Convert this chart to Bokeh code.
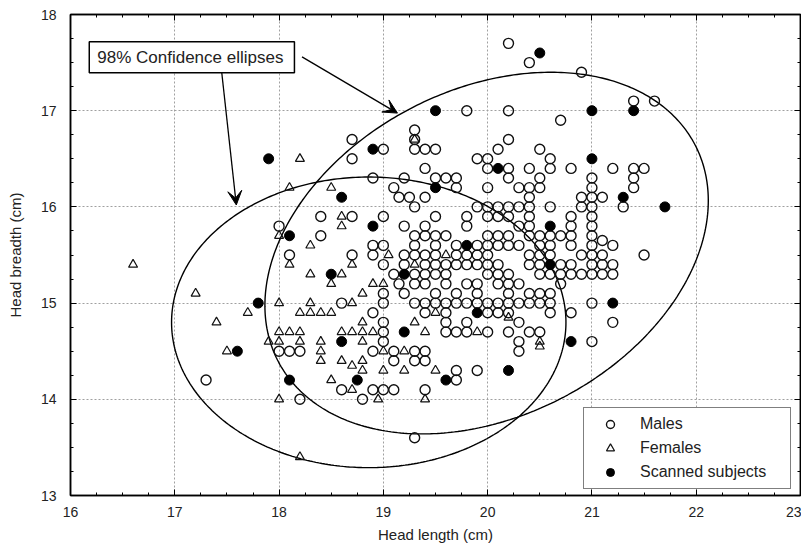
import numpy as np
from bokeh.plotting import figure
from bokeh.models import (FixedTicker, LinearAxis, Range1d, Label, Arrow, VeeHead,
                          Legend, LegendItem, CustomLabelingPolicy)
from bokeh.embed import file_html
from bokeh.resources import INLINE

# ---------------- data ----------------
males_x = [
    20.2,
    20.4,
    20.9,
    21.4, 21.6,
    19.8, 20.2,
    20.7,
    19.3,
    18.7, 19.3, 20.2,
    19.0, 19.3, 19.4, 19.5, 20.1, 20.5,
    18.7, 19.9, 20.0, 20.6,
    19.4, 20.0, 20.2, 20.4, 20.6, 20.8, 21.2, 21.4, 21.5,
    18.9, 19.2, 19.5, 19.6, 19.7, 20.2, 20.5, 21.0, 21.4,
    19.1, 19.7, 20.0, 20.3, 20.4, 20.5, 21.0, 21.4,
    19.15, 19.25, 19.4, 20.4, 20.9, 21.0, 21.1,
    19.3, 19.9, 20.0, 20.1, 20.2, 20.3, 20.4, 20.6, 20.9, 21.0, 21.3,
    18.4, 18.7, 19.0, 19.5, 19.8, 20.0, 20.1, 20.2, 20.4, 20.8, 21.0,
    18.0, 19.2, 19.4, 19.8, 20.3, 20.4, 20.8, 21.0,
    18.4, 19.3, 19.4, 19.5, 19.6, 20.0, 20.1, 20.2, 20.4, 20.5, 20.6, 20.7, 20.8, 21.0,
    21.1,
    18.9, 19.0, 19.3, 19.5, 19.7, 19.9, 20.0, 20.1, 20.2, 20.3, 20.5, 20.6, 20.8, 21.0, 21.2,
    18.1, 18.7, 18.9, 19.2, 19.3, 19.4, 19.5, 19.7, 19.8, 19.9, 20.0, 20.4, 20.5, 20.6, 20.9, 21.0, 21.1, 21.5,
    19.0, 19.2, 19.4, 19.5, 19.6, 19.7, 19.8, 19.9, 20.0, 20.1, 20.4, 20.5, 20.7, 20.8, 21.0, 21.1, 21.2,
    19.1, 19.3, 19.4, 19.5, 19.6, 20.0, 20.1, 20.2, 20.5, 20.6, 20.7, 20.8, 20.9, 21.0, 21.1, 21.2,
    19.15, 19.3, 19.4, 19.6, 19.8, 19.9, 20.1, 20.2, 20.3, 20.7,
    19.0, 19.2, 19.5, 19.7, 19.9, 20.2, 20.4, 20.5, 20.6,
    18.6, 19.0, 19.3, 19.4, 19.5, 19.6, 19.7, 19.8, 19.9, 20.0, 20.1, 20.2, 20.3, 20.4, 20.5, 20.6, 21.0,
    18.9, 19.4, 19.6, 20.0, 20.1, 20.2, 20.6, 20.8,
    19.0, 19.6, 19.8, 20.3, 21.2,
    19.0, 19.6, 19.7, 19.8, 20.0, 20.2, 20.4, 20.5,
    19.0, 20.3, 21.0,
    18.0, 18.1, 18.2, 18.9, 19.1, 19.3, 19.4, 20.3,
    19.1, 19.3, 19.4,
    19.7, 19.9,
    17.3, 19.7,
    18.6, 18.9, 19.0, 19.1, 19.4,
    18.2, 18.8,
    19.3,
]
males_y = [
    17.7,
    17.5,
    17.4,
    17.1, 17.1,
    17.0, 17.0,
    16.9,
    16.8,
    16.7, 16.7, 16.7,
    16.6, 16.6, 16.6, 16.6, 16.6, 16.6,
    16.5, 16.5, 16.5, 16.5,
    16.4, 16.4, 16.4, 16.4, 16.4, 16.4, 16.4, 16.4, 16.4,
    16.3, 16.3, 16.3, 16.3, 16.3, 16.3, 16.3, 16.3, 16.3,
    16.2, 16.2, 16.2, 16.2, 16.2, 16.2, 16.2, 16.2,
    16.1, 16.1, 16.1, 16.1, 16.1, 16.1, 16.1,
    16.0, 16.0, 16.0, 16.0, 16.0, 16.0, 16.0, 16.0, 16.0, 16.0, 16.0,
    15.9, 15.9, 15.9, 15.9, 15.9, 15.9, 15.9, 15.9, 15.9, 15.9, 15.9,
    15.8, 15.8, 15.8, 15.8, 15.8, 15.8, 15.8, 15.8,
    15.7, 15.7, 15.7, 15.7, 15.7, 15.7, 15.7, 15.7, 15.7, 15.7, 15.7, 15.7, 15.7, 15.7,
    15.65,
    15.6, 15.6, 15.6, 15.6, 15.6, 15.6, 15.6, 15.6, 15.6, 15.6, 15.6, 15.6, 15.6, 15.6, 15.6,
    15.5, 15.5, 15.5, 15.5, 15.5, 15.5, 15.5, 15.5, 15.5, 15.5, 15.5, 15.5, 15.5, 15.5, 15.5, 15.5, 15.5, 15.5,
    15.4, 15.4, 15.4, 15.4, 15.4, 15.4, 15.4, 15.4, 15.4, 15.4, 15.4, 15.4, 15.4, 15.4, 15.4, 15.4, 15.4,
    15.3, 15.3, 15.3, 15.3, 15.3, 15.3, 15.3, 15.3, 15.3, 15.3, 15.3, 15.3, 15.3, 15.3, 15.3, 15.3,
    15.2, 15.2, 15.2, 15.2, 15.2, 15.2, 15.2, 15.2, 15.2, 15.2,
    15.1, 15.1, 15.1, 15.1, 15.1, 15.1, 15.1, 15.1, 15.1,
    15.0, 15.0, 15.0, 15.0, 15.0, 15.0, 15.0, 15.0, 15.0, 15.0, 15.0, 15.0, 15.0, 15.0, 15.0, 15.0, 15.0,
    14.9, 14.9, 14.9, 14.9, 14.9, 14.9, 14.9, 14.9,
    14.8, 14.8, 14.8, 14.8, 14.8,
    14.7, 14.7, 14.7, 14.7, 14.7, 14.7, 14.7, 14.7,
    14.6, 14.6, 14.6,
    14.5, 14.5, 14.5, 14.5, 14.5, 14.5, 14.5, 14.5,
    14.4, 14.4, 14.4,
    14.3, 14.3,
    14.2, 14.2,
    14.1, 14.1, 14.1, 14.1, 14.1,
    14.0, 14.0,
    13.6,
]

females_x = [19.3, 18.2, 18.1, 18.5, 18.6, 18.6, 18.0, 18.3, 19.05, 19.6,
             16.6, 18.1, 18.7, 19.3, 18.3, 18.6, 18.5, 18.9, 19.0, 17.2,
             18.8, 18.0, 18.3, 18.7, 17.7, 18.2, 18.3, 18.4, 18.5, 19.5,
             20.2, 17.4, 18.8, 19.3, 18.0, 18.1, 18.2, 18.6, 18.7, 18.8,
             18.9, 19.4, 19.9, 17.9, 18.0, 18.2, 18.4, 18.8, 20.5, 20.5,
             17.5, 18.4, 19.0, 19.2, 18.4, 18.6, 18.8, 18.7, 18.8, 19.0,
             19.2, 19.5, 18.5, 18.7, 18.0, 18.95, 19.4, 18.2]
females_y = [16.7, 16.5, 16.2, 16.2, 15.9, 15.8, 15.7, 15.6, 15.5, 15.5,
             15.4, 15.4, 15.4, 15.4, 15.3, 15.3, 15.2, 15.2, 15.2, 15.1,
             15.1, 15.0, 15.0, 15.0, 14.9, 14.9, 14.9, 14.9, 14.9, 14.9,
             14.85, 14.8, 14.8, 14.8, 14.7, 14.7, 14.7, 14.7, 14.7, 14.7,
             14.7, 14.7, 14.7, 14.6, 14.6, 14.6, 14.6, 14.6, 14.6, 14.55,
             14.5, 14.5, 14.5, 14.5, 14.4, 14.4, 14.4, 14.35, 14.3, 14.3,
             14.3, 14.3, 14.2, 14.1, 14.0, 14.0, 14.0, 13.4]

scanned_x = [20.5, 19.5, 21.0, 21.4, 18.9, 17.9, 21.0, 20.1, 19.5, 18.6,
             21.3, 21.7, 18.9, 20.6, 18.1, 19.8, 20.6, 18.5, 19.2, 17.8,
             21.2, 19.9, 19.2, 18.6, 20.8, 17.6, 20.2, 18.1, 18.75, 19.6]
scanned_y = [17.6, 17.0, 17.0, 17.0, 16.6, 16.5, 16.5, 16.4, 16.2, 16.1,
             16.1, 16.0, 15.8, 15.8, 15.7, 15.6, 15.4, 15.3, 15.3, 15.0,
             15.0, 14.9, 14.7, 14.6, 14.6, 14.5, 14.3, 14.2, 14.2, 14.2]

# 98% confidence ellipse parameters (mean, sd, correlation) for each sex
male_mean = [19.99, 15.52]
male_sd = [0.76, 0.672]
male_rho = 0.29
female_mean = [18.86, 14.80]
female_sd = [0.676, 0.54]
female_rho = 0.0
conf_level = 0.98

x_ticks = [16, 17, 18, 19, 20, 21, 22, 23]
y_ticks = [13, 14, 15, 16, 17, 18]

FONT = "Liberation Sans"
TXT = "#222222"


def conf_ellipse(mean, sd, rho, level, n=400):
    c = np.sqrt(-2.0 * np.log(1.0 - level))
    t = np.linspace(0, 2 * np.pi, n)
    cov = np.array([[sd[0] ** 2, rho * sd[0] * sd[1]],
                    [rho * sd[0] * sd[1], sd[1] ** 2]])
    L = np.linalg.cholesky(cov)
    pts = L @ np.vstack([np.cos(t), np.sin(t)]) * c
    return pts[0] + mean[0], pts[1] + mean[1]


p = figure(width=801, height=546, output_backend="svg", toolbar_location=None,
           tools="", x_range=Range1d(16, 23), y_range=Range1d(13, 18),
           min_border_left=70, min_border_right=1, min_border_top=14,
           min_border_bottom=51, background_fill_color="white",
           border_fill_color="white")
p.outline_line_color = "black"
p.outline_line_width = 1.5

minor_x = list(np.arange(16, 23.001, 0.25))
minor_y = list(np.arange(13, 18.001, 0.25))

for ax, ticks, minor in ((p.xaxis[0], x_ticks, minor_x), (p.yaxis[0], y_ticks, minor_y)):
    ax.ticker = FixedTicker(ticks=ticks, minor_ticks=minor)
    ax.major_tick_in = 6
    ax.major_tick_out = 0
    ax.minor_tick_in = 3
    ax.minor_tick_out = 0
    ax.axis_line_color = "black"
    ax.axis_line_width = 1.5
    ax.major_tick_line_color = "black"
    ax.minor_tick_line_color = "black"
    ax.major_label_text_font = FONT
    ax.major_label_text_font_size = "14px"
    ax.major_label_text_color = TXT
    ax.axis_label_text_font = FONT
    ax.axis_label_text_font_size = "15px"
    ax.axis_label_text_font_style = "normal"
    ax.axis_label_text_color = TXT

p.xaxis[0].axis_label = "Head length (cm)"
p.xaxis[0].major_label_standoff = 11
p.xaxis[0].axis_label_standoff = 6
p.yaxis[0].axis_label = "Head breadth (cm)"
p.yaxis[0].major_label_standoff = 14
p.yaxis[0].axis_label_standoff = 14

no_labels = CustomLabelingPolicy(code="""
for (const i of indices)
    indices.unset(i)
return indices
""")

for loc, ticks, minor in (("right", y_ticks, minor_y), ("above", x_ticks, minor_x)):
    a = LinearAxis(ticker=FixedTicker(ticks=ticks, minor_ticks=minor))
    a.major_tick_in = 6
    a.major_tick_out = 0
    a.minor_tick_in = 3
    a.minor_tick_out = 0
    a.major_label_text_font_size = "0px"
    a.major_label_standoff = 0
    a.major_label_policy = no_labels
    a.axis_line_color = "black"
    a.axis_line_width = 1.5
    p.add_layout(a, loc)

p.xgrid[0].ticker = FixedTicker(ticks=x_ticks)
p.ygrid[0].ticker = FixedTicker(ticks=y_ticks)
for g in (p.xgrid[0], p.ygrid[0]):
    g.grid_line_color = "#a0a0a0"
    g.grid_line_dash = "2 2"
    g.grid_line_width = 1

# ellipses
mx, my = conf_ellipse(male_mean, male_sd, male_rho, conf_level)
fx, fy = conf_ellipse(female_mean, female_sd, female_rho, conf_level)
p.line(mx, my, line_color="black", line_width=1.4)
p.line(fx, fy, line_color="black", line_width=1.4)

r_m = p.scatter(males_x, males_y, marker="circle", size=10, fill_color=None,
                line_color="#111111", line_width=1.4)
r_f = p.scatter(females_x, females_y, marker="triangle", size=9, fill_color=None,
                line_color="#111111", line_width=1.2)
r_s = p.scatter(scanned_x, scanned_y, marker="circle", size=10, fill_color="black",
                line_color="black", line_width=1)

legend = Legend(items=[LegendItem(label="Males", renderers=[r_m]),
                       LegendItem(label="Females", renderers=[r_f]),
                       LegendItem(label="Scanned subjects", renderers=[r_s])],
                location=(513, 6))
legend.border_line_color = "black"
legend.border_line_width = 1.5
legend.background_fill_color = "white"
legend.background_fill_alpha = 1
legend.padding = 6
legend.margin = 0
legend.spacing = 4
legend.label_height = 20
legend.glyph_height = 20
legend.glyph_width = 40
legend.label_standoff = 10
legend.label_width = 144
legend.label_text_font = FONT
legend.label_text_font_size = "16px"
legend.label_text_color = TXT
p.add_layout(legend, "center")

# annotation
lab = Label(x=16.18, y=17.555, text="98% Confidence ellipses", text_baseline="middle",
            text_font=FONT, text_font_size="17px", text_color=TXT,
            background_fill_color="white", border_line_color="black",
            border_line_width=1.5, padding=dict(left=8, right=11, top=6, bottom=6))
p.add_layout(lab)

p.add_layout(Arrow(end=VeeHead(size=14, fill_color="black", line_color="black"),
                   x_start=18.22, y_start=17.56, x_end=19.135, y_end=16.975,
                   line_color="black", line_width=1.3))
p.add_layout(Arrow(end=VeeHead(size=14, fill_color="black", line_color="black"),
                   x_start=17.45, y_start=17.40, x_end=17.59, y_end=16.02,
                   line_color="black", line_width=1.3))

open("out.html", "w").write(file_html(p, INLINE))
